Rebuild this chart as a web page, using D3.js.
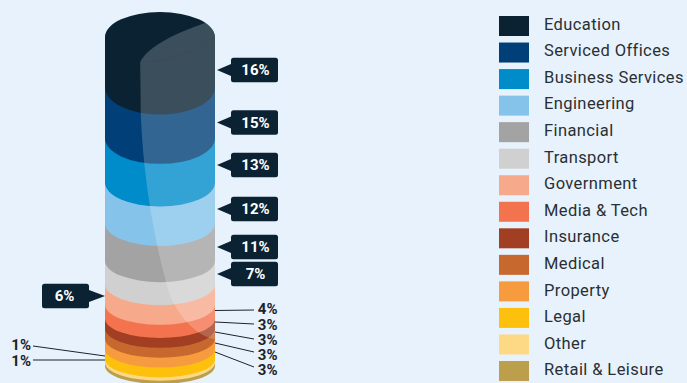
<!DOCTYPE html>
<html>
<head>
<meta charset="utf-8">
<script src="https://cdn.jsdelivr.net/npm/d3@7/dist/d3.min.js"></script>
<style>
html,body{margin:0;padding:0;background:#e7f2fc;overflow:hidden}
svg{display:block;font-family:Roboto,sans-serif}
</style>
</head>
<body>
<svg id="chart" width="687" height="383"></svg>
<script>
const sectors = ["Education","Serviced Offices","Business Services","Engineering","Financial","Transport","Government","Media & Tech","Insurance","Medical","Property","Legal","Other","Retail & Leisure"];
const shares = [16,15,13,12,11,7,6,4,3,3,3,3,1,1];
const swatches = ["#0b2233","#003f77","#008bcb","#85c3ea","#a3a3a3","#d0d0d0","#f7a98b","#f4734f","#a23f23","#c7682f","#f79b3f","#fdc10d","#fed985","#bb9f4c"];

const svg = d3.select("#chart");
const total = d3.sum(shares);
const ends = d3.cumsum(shares);

// Stack height runs from the front rim of the top ellipse downwards.
const y = d3.scaleLinear().domain([0, total]).range([62, 384]);
const x = d3.scaleLinear().domain([-1, 1]).range([105, 215]);
// Curve depth of each seam eases off towards the base of the stack.
const depth = d3.scaleLinear().domain([0, total]).range([29, 18]);
const topRy = 25;
const rimY = y(0) - topRy;
const rx = (x(1) - x(-1)) / 2;

function bandPath(end) {
  const front = y(end), d = depth(end), edge = front - d;
  return `M${x(-1)},${rimY}L${x(-1)},${edge}A${rx},${d} 0 0 0 ${x(1)},${edge}L${x(1)},${rimY}Z`;
}
const capPath = `M${x(-1)},${rimY}A${rx},${topRy} 0 0 1 ${x(1)},${rimY}Z`;

// Bands are painted bottom-up so each one overlaps the band beneath it.
const body = svg.append("g");
body.selectAll("path.band")
  .data(d3.range(sectors.length).reverse())
  .join("path")
  .attr("class", "band")
  .attr("d", i => bandPath(ends[i]))
  .attr("fill", i => swatches[i]);
body.append("path").attr("d", capPath).attr("fill", swatches[0]);

// Faint front rim of the top ellipse.
body.append("path")
  .attr("d", `M${x(-0.36)},${y(0)}Q${x(0.3)},${y(0)+1} ${x(1)},${rimY}`)
  .attr("fill", "none").attr("stroke", "#000").attr("stroke-opacity", 0.12).attr("stroke-width", 0.7);

// Sheen across the right of the cylinder, kept inside its outline.
const defs = svg.append("defs");
defs.append("clipPath").attr("id", "outline").selectAll("path")
  .data([capPath, bandPath(total)]).join("path").attr("d", d => d);
const sheen = d3.path();
sheen.moveTo(x(0.82), 23);
sheen.bezierCurveTo(x(0.35), 32, x(-0.2), 45, x(-0.36), y(0));
sheen.lineTo(x(-0.35), y(16));
sheen.bezierCurveTo(x(-0.3), y(36), x(-0.1), y(56), x(0.2), y(72));
sheen.bezierCurveTo(x(0.45), y(80), x(0.75), y(84), x(1.05), y(84.5));
sheen.lineTo(x(1.05), 0);
sheen.closePath();
svg.append("path")
  .attr("d", sheen.toString())
  .attr("clip-path", "url(#outline)")
  .attr("fill", "#fff").attr("fill-opacity", 0.2);

// Dark callouts for the larger shares.
const calloutCentres = [70, 122.5, 165, 209, 247, 274, 296];
const calloutDark = swatches[0];
function callout(cy, share, left) {
  const g = svg.append("g");
  const x0 = left ? 42 : 231, w = 47, h = 24.5;
  g.append("rect").attr("x", x0).attr("y", cy - h / 2).attr("width", w).attr("height", h).attr("rx", 2.5).attr("fill", calloutDark);
  const base = left ? x0 + w : x0, tip = left ? 105 : 217;
  g.append("path").attr("d", d3.line()([[base, cy - 6], [tip, cy], [base, cy + 6]])).attr("fill", calloutDark);
  g.append("text").attr("x", x0 + w / 2 + (left ? -1 : 1)).attr("y", cy + 5.4)
    .attr("text-anchor", "middle").attr("fill", "#fff")
    .attr("font-size", 15).attr("font-weight", 700).text(share + "%");
}
shares.slice(0, 7).forEach((s, i) => callout(calloutCentres[i], s, i === 6));

// Leader lines for the thin bands.
const leaderRows = [
  {i: 7,  from: [215, 310.5], to: [254, 310], ty: 309},
  {i: 8,  from: [215, 322],   to: [254, 324], ty: 324.5},
  {i: 9,  from: [215, 332],   to: [254, 339], ty: 340},
  {i: 10, from: [215, 343],   to: [254, 352], ty: 355},
  {i: 11, from: [215, 352],   to: [254, 367], ty: 370}
];
const leaderLeft = [
  {i: 12, from: [105, 356], to: [33, 346], ty: 345},
  {i: 13, from: [105, 360], to: [33, 360], ty: 361}
];
const leaders = svg.append("g");
[...leaderRows, ...leaderLeft].forEach(r => {
  leaders.append("path").attr("d", d3.line()([r.from, r.to]))
    .attr("stroke", "#1d2429").attr("stroke-width", 1).attr("fill", "none");
  leaders.append("text")
    .attr("x", r.to[0] < 100 ? 31 : 277.5).attr("y", r.ty + 5.3)
    .attr("text-anchor", "end").attr("fill", "#1d2429")
    .attr("font-size", 15).attr("font-weight", 700)
    .text(shares[r.i] + "%");
});

// Legend.
const legendY = d3.scalePoint().domain(sectors).range([16, 361]);
const legend = svg.append("g").selectAll("g").data(sectors).join("g")
  .attr("transform", d => `translate(499,${legendY(d)})`);
legend.append("rect").attr("width", 30).attr("height", 20).attr("fill", (d, i) => swatches[i]);
legend.append("text").attr("x", 45).attr("y", (d, i) => 13.5 + i * 0.07)
  .attr("fill", "#2a2f33").attr("font-size", 16.5).attr("letter-spacing", 0.4).text(d => d);
</script>
</body>
</html>
